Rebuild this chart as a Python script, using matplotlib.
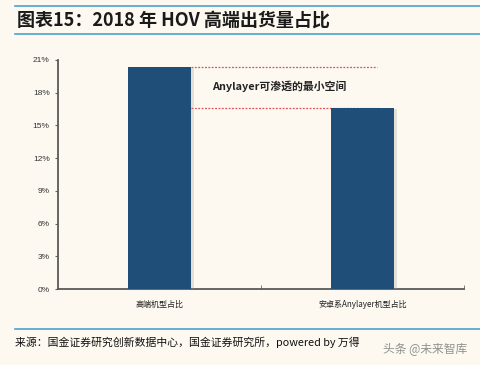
import matplotlib
matplotlib.use("Agg")
import matplotlib.pyplot as plt
from matplotlib.lines import Line2D
import matplotlib.patheffects as pe

plt.rcParams['font.family'] = ['Noto Sans CJK SC', 'DejaVu Sans']

categories = ["高端机型占比", "安卓系Anylayer机型占比"]
values = [20.4, 16.6]
yticks = [0, 3, 6, 9, 12, 15, 18, 21]
ytick_labels = ["0%", "3%", "6%", "9%", "12%", "15%", "18%", "21%"]
title = "图表15：2018 年 HOV 高端出货量占比"
annotation = "Anylayer可渗透的最小空间"
source = "来源：国金证券研究创新数据中心，国金证券研究所，powered by 万得"
watermark = "头条 @未来智库"

W, H = 481, 365
bg = "#FDF9F0"
fig = plt.figure(figsize=(W / 100, H / 100), dpi=100, facecolor=bg)

# axes: x 58..464, y 60..289 (pixels from top)
ax = fig.add_axes([58 / W, 1 - 289 / H, (464 - 58) / W, (289 - 60) / H])
ax.set_facecolor(bg)

x = range(len(categories))
bw = 0.315
bars = ax.bar(x, values, width=bw, color="#1F4E79", zorder=3)
for b in bars:
    b.set_path_effects([pe.SimplePatchShadow(offset=(1.5, -1), shadow_rgbFace="#999999", alpha=0.25), pe.Normal()])

ax.set_xlim(-0.5, len(categories) - 0.5)
ax.set_ylim(0, 21)
ax.set_yticks(yticks)
ax.set_yticklabels(ytick_labels, fontsize=6, color="#333333", family=['Liberation Sans', 'DejaVu Sans'])
ax.set_xticks(list(x))
ax.set_xticklabels(categories, fontsize=5.8, color="#222222")
ax.set_xticks([0.5, 1.5], minor=True)
ax.tick_params(axis='x', which='major', length=0, pad=8)
ax.tick_params(axis='x', which='minor', direction='in', length=3, color="#666666")
ax.tick_params(axis='y', length=2, color="#666666", pad=4)
for s in ['top', 'right']:
    ax.spines[s].set_visible(False)
for s in ['left', 'bottom']:
    ax.spines[s].set_color("#5a5a5a")
    ax.spines[s].set_linewidth(1.3)

# dashed reference lines
ax.plot([0 + bw / 2, 1.07], [values[0], values[0]], color="#E0505A", ls=(0, (1.5, 1.2)), lw=0.9, zorder=2)
ax.plot([0 + bw / 2, 1.08], [values[1], values[1]], color="#E0505A", ls=(0, (1.5, 1.2)), lw=0.9, zorder=2)
ax.text(0.26, (values[0] + values[1]) / 2 + 0.1, annotation, fontsize=7.8, fontweight='bold',
        color="#222222", va='center', ha='left')

# title and decoration lines
blue = "#4BA3D0"
fig.add_artist(Line2D([15 / W, 1], [1 - 5.5 / H] * 2, color=blue, lw=1.2))
fig.add_artist(Line2D([15 / W, 1], [1 - 34 / H] * 2, color=blue, lw=1.2))
fig.add_artist(Line2D([15 / W, 1], [1 - 329 / H] * 2, color=blue, lw=1.2))
fig.text(17 / W, 1 - 20 / H, title, fontsize=13, fontweight='bold', color="#1a1a1a",
         va='center', ha='left', style='italic')
fig.text(15 / W, 1 - 342 / H, source, fontsize=7.8, color="#111111", va='center', ha='left')
fig.text(383 / W, 1 - 350 / H, watermark, fontsize=8.5, color="#777777", alpha=0.8, va='center', ha='left')

fig.savefig("out.png", dpi=100, facecolor=bg)
